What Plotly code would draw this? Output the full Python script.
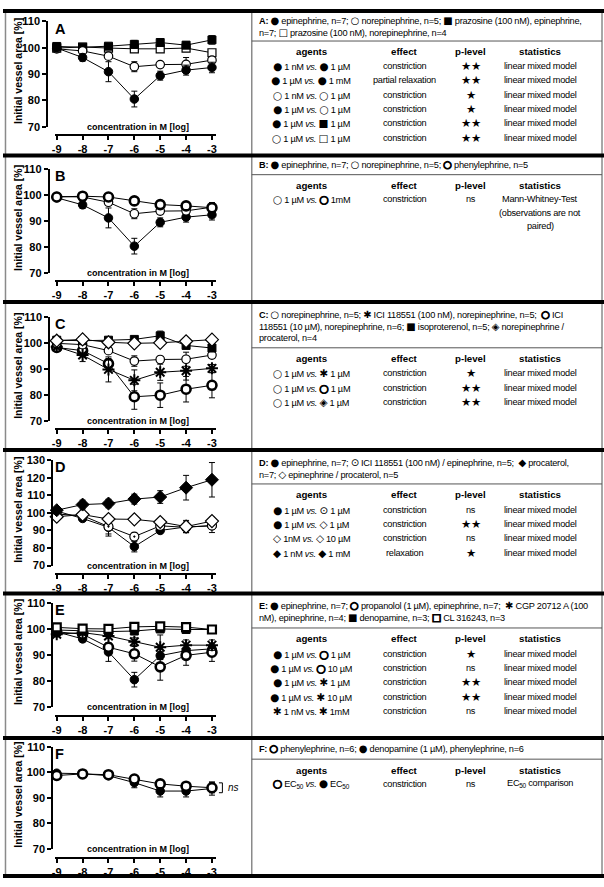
import plotly.graph_objects as go

W, H = 604, 887

# ---------------- data ----------------
conc_log = [-9, -8, -7, -6, -5, -4, -3]
conc_ticklabels = ["-9", "-8", "-7", "-6", "-5", "-4", "-3"]

# Panel A
A_epinephrine = [99.9, 96.3, 90.9, 80.5, 89.4, 91.5, 92.5]
A_epinephrine_err = [0.8, 1.4, 3.8, 3.0, 1.7, 1.9, 2.0]
A_norepinephrine = [99.6, 98.8, 96.8, 92.8, 93.6, 93.7, 95.3]
A_norepinephrine_err = [0.6, 0.8, 1.0, 1.9, 1.0, 2.6, 1.0]
A_praz_epi = [100.5, 100.2, 100.6, 101.3, 102.0, 101.0, 103.0]
A_praz_epi_err = [0.8, 0.8, 1.0, 1.5, 1.0, 1.2, 1.6]
A_praz_norepi = [99.9, 100.3, 99.9, 99.6, 99.6, 99.9, 98.1]
A_praz_norepi_err = [0.5, 0.5, 0.6, 0.6, 0.6, 0.6, 0.6]

# Panel B
B_epinephrine = [98.9, 96.2, 91.2, 80.4, 89.5, 91.5, 92.4]
B_epinephrine_err = [0.8, 1.4, 3.8, 3.0, 1.7, 1.9, 2.0]
B_norepinephrine = [99.4, 99.2, 97.2, 92.8, 93.8, 93.9, 95.3]
B_norepinephrine_err = [0.6, 0.8, 1.0, 1.9, 1.0, 2.6, 1.0]
B_phenylephrine = [99.2, 99.5, 99.2, 97.7, 96.3, 95.8, 95.1]
B_phenylephrine_err = [0.5, 0.5, 0.6, 0.6, 1.0, 1.2, 2.0]

# Panel C
C_norepinephrine = [99.8, 99.3, 97.0, 93.0, 93.6, 93.7, 95.3]
C_norepinephrine_err = [0.6, 0.8, 1.0, 2.0, 1.2, 2.7, 1.0]
C_ici100 = [98.5, 95.3, 89.8, 85.6, 88.7, 89.3, 90.2]
C_ici100_err = [0.8, 2.5, 4.8, 4.0, 3.1, 3.6, 1.5]
C_ici10 = [98.2, 97.0, 92.0, 79.3, 79.9, 82.2, 83.7]
C_ici10_err = [0.8, 2.0, 2.0, 4.8, 4.7, 4.9, 4.8]
C_isoproterenol = [101.0, 100.8, 101.0, 101.3, 102.7, 99.0, 98.0]
C_isoproterenol_err = [0.6, 0.6, 0.8, 1.0, 1.8, 1.0, 1.0]
C_norepi_procaterol = [100.8, 101.3, 100.2, 99.8, 100.0, 100.6, 101.2]
C_norepi_procaterol_err = [0.5, 0.5, 0.6, 0.8, 0.8, 0.8, 0.8]

# Panel D
D_epinephrine = [101.0, 96.8, 91.8, 80.8, 90.0, 92.0, 92.6]
D_epinephrine_err = [0.8, 1.4, 3.8, 3.0, 1.7, 1.9, 2.0]
D_ici_epi = [99.3, 98.4, 92.2, 86.5, 92.6, 91.8, 92.8]
D_ici_epi_err = [0.8, 1.0, 5.4, 2.0, 1.5, 3.0, 4.0]
D_procaterol = [101.5, 104.7, 105.3, 107.8, 109.0, 114.3, 118.8]
D_procaterol_err = [1.0, 2.5, 2.4, 2.8, 3.6, 7.0, 9.8]
D_epi_procaterol = [97.8, 99.0, 96.5, 96.3, 94.8, 92.2, 95.3]
D_epi_procaterol_err = [0.6, 0.8, 0.8, 1.0, 1.0, 3.5, 2.2]

# Panel E
E_epinephrine = [98.9, 96.2, 91.2, 80.6, 89.8, 91.7, 92.4]
E_epinephrine_err = [0.8, 1.2, 3.6, 2.8, 1.5, 2.0, 1.5]
E_propanolol = [98.9, 98.0, 93.0, 90.5, 85.5, 89.9, 91.1]
E_propanolol_err = [0.6, 0.8, 1.5, 2.8, 5.1, 3.8, 3.5]
E_cgp = [98.0, 98.6, 97.3, 95.1, 93.0, 93.8, 93.8]
E_cgp_err = [0.6, 0.8, 1.0, 1.5, 4.7, 2.0, 2.0]
E_denopamine = [99.6, 99.2, 99.0, 99.2, 100.0, 99.8, 99.8]
E_denopamine_err = [0.4, 0.4, 0.5, 0.5, 0.5, 0.5, 0.5]
E_cl316243 = [100.6, 100.1, 100.0, 100.8, 101.0, 100.7, 99.8]
E_cl316243_err = [0.4, 0.4, 0.5, 0.5, 0.5, 0.5, 0.5]

# Panel F
F_phenylephrine = [98.7, 99.3, 99.0, 97.3, 95.4, 94.5, 93.9]
F_phenylephrine_err = [0.5, 0.5, 0.6, 0.8, 1.0, 1.0, 2.0]
F_denopamine_phenyl = [99.6, 99.4, 98.6, 95.9, 92.6, 92.6, 93.6]
F_denopamine_phenyl_err = [0.5, 0.5, 0.8, 2.0, 2.3, 2.3, 2.6]

# table text ("<b>○</b>" / "<b>□</b>" = thick-outlined symbol)
A_header = ["<b>A:</b> ● epinephrine, n=7; ○ norepinephrine, n=5; ■ prazosine (100 nM), epinephrine,",
            "n=7; □ prazosine (100 nM), norepinephrine, n=4"]
A_rows = [
    ["● 1 nM <i>vs.</i> ● 1 µM", "constriction", "★★", "linear mixed model"],
    ["● 1 µM <i>vs.</i> ● 1 mM", "partial relaxation", "★★", "linear mixed model"],
    ["○ 1 nM <i>vs.</i> ○ 1 µM", "constriction", "★", "linear mixed model"],
    ["● 1 µM <i>vs.</i> ○ 1 µM", "constriction", "★", "linear mixed model"],
    ["● 1 µM <i>vs.</i> ■ 1 µM", "constriction", "★★", "linear mixed model"],
    ["○ 1 µM <i>vs.</i> □ 1 µM", "constriction", "★★", "linear mixed model"],
]
B_header = ["<b>B:</b> ● epinephrine, n=7; ○ norepinephrine, n=5; <b>○</b> phenylephrine, n=5"]
B_rows = [
    ["○ 1 µM <i>vs.</i> <b>○</b> 1mM", "constriction", "ns",
     "Mann-Whitney-Test<br>(observations are not<br>paired)"],
]
C_header = ["<b>C:</b> ○ norepinephrine, n=5; ✱ ICI 118551 (100 nM), norepinephrine, n=5;  <b>○</b> ICI",
            "118551 (10 µM), norepinephrine, n=6; ■ isoproterenol, n=5; ◈ norepinephrine /",
            "procaterol, n=4"]
C_rows = [
    ["○ 1 µM <i>vs.</i> ✱ 1 µM", "constriction", "★", "linear mixed model"],
    ["○ 1 µM <i>vs.</i> <b>○</b> 1 µM", "constriction", "★★", "linear mixed model"],
    ["○ 1 µM <i>vs.</i> ◈ 1 µM", "constriction", "★★", "linear mixed model"],
]
D_header = ["<b>D:</b> ● epinephrine, n=7; ⊙ ICI 118551 (100 nM) / epinephrine, n=5;  ◆ procaterol,",
            "n=7; ◇ epinephrine / procaterol, n=5"]
D_rows = [
    ["● 1 µM <i>vs.</i> ⊙ 1 µM", "constriction", "ns", "linear mixed model"],
    ["● 1 µM <i>vs.</i> ◇ 1 µM", "constriction", "★★", "linear mixed model"],
    ["◇ 1nM <i>vs.</i> ◇ 10 µM", "constriction", "ns", "linear mixed model"],
    ["◆ 1 nM <i>vs.</i> ◆ 1 mM", "relaxation", "★", "linear mixed model"],
]
E_header = ["<b>E:</b> ● epinephrine, n=7; <b>○</b> propanolol (1 µM), epinephrine, n=7;  ✱ CGP 20712 A (100",
            "nM), epinephrine, n=4; ■ denopamine, n=3; <b>□</b> CL 316243, n=3"]
E_rows = [
    ["● 1 µM <i>vs.</i> <b>○</b> 1 µM", "constriction", "★", "linear mixed model"],
    ["● 1 µM <i>vs.</i> <b>○</b> 10 µM", "constriction", "ns", "linear mixed model"],
    ["● 1 µM <i>vs.</i> ✱ 1 µM", "constriction", "★★", "linear mixed model"],
    ["● 1 µM <i>vs.</i> ✱ 10 µM", "constriction", "★★", "linear mixed model"],
    ["✱ 1 nM vs. ✱ 1mM", "constriction", "ns", "linear mixed model"],
]
F_header = ["<b>F:</b> <b>○</b> phenylephrine, n=6; ● denopamine (1 µM), phenylephrine, n=6"]
F_rows = [
    ["<b>○</b> EC<sub>50</sub> <i>vs.</i> ● EC<sub>50</sub>", "constriction", "ns", "EC<sub>50</sub> comparison"],
]
col_headers = ["agents", "effect", "p-level", "statistics"]

# ---------------- styles ----------------
STY = {
    "fcirc": dict(symbol="circle", size=8.5, color="black", line=dict(color="black", width=1)),
    "ocirc": dict(symbol="circle", size=8.5, color="white", line=dict(color="black", width=1.2)),
    "tcirc": dict(symbol="circle", size=9, color="white", line=dict(color="black", width=2.6)),
    "fsq": dict(symbol="square", size=8, color="black", line=dict(color="black", width=1)),
    "osq": dict(symbol="square", size=8, color="white", line=dict(color="black", width=1.2)),
    "tsq": dict(symbol="square", size=8, color="white", line=dict(color="black", width=2.2)),
    "fdia": dict(symbol="diamond", size=10, color="black", line=dict(color="black", width=1)),
    "odia": dict(symbol="diamond", size=10, color="white", line=dict(color="black", width=1.2)),
    "ast": dict(symbol="asterisk-open", size=10, color="black", line=dict(color="black", width=2)),
    "cdot": dict(symbol="circle-dot", size=9, color="white", line=dict(color="black", width=1.2)),
}

SERIES = {
    "A": [(A_praz_norepi, A_praz_norepi_err, "osq"), (A_praz_epi, A_praz_epi_err, "fsq"),
          (A_norepinephrine, A_norepinephrine_err, "ocirc"), (A_epinephrine, A_epinephrine_err, "fcirc")],
    "B": [(B_epinephrine, B_epinephrine_err, "fcirc"), (B_norepinephrine, B_norepinephrine_err, "ocirc"),
          (B_phenylephrine, B_phenylephrine_err, "tcirc")],
    "C": [(C_ici10, C_ici10_err, "tcirc"), (C_ici100, C_ici100_err, "ast"),
          (C_norepinephrine, C_norepinephrine_err, "ocirc"), (C_isoproterenol, C_isoproterenol_err, "fsq"),
          (C_norepi_procaterol, C_norepi_procaterol_err, "odia")],
    "D": [(D_epinephrine, D_epinephrine_err, "fcirc"), (D_ici_epi, D_ici_epi_err, "cdot"),
          (D_epi_procaterol, D_epi_procaterol_err, "odia"), (D_procaterol, D_procaterol_err, "fdia")],
    "E": [(E_epinephrine, E_epinephrine_err, "fcirc"), (E_propanolol, E_propanolol_err, "tcirc"),
          (E_cgp, E_cgp_err, "ast"), (E_denopamine, E_denopamine_err, "fsq"),
          (E_cl316243, E_cl316243_err, "tsq")],
    "F": [(F_denopamine_phenyl, F_denopamine_phenyl_err, "fcirc"),
          (F_phenylephrine, F_phenylephrine_err, "tcirc")],
}

# panel geometry (pixels): key, ymax, y of ymax, y of 70, x-axis line y, y-axis line x
PANELS = [
    ("A", 110, 15.7, 122.3, 130.7, 44.5),
    ("B", 110, 165.0, 271.0, 279.0, 46.0),
    ("C", 110, 315.0, 420.7, 429.0, 46.5),
    ("D", 130, 460.3, 567.3, 576.0, 49.5),
    ("E", 110, 605.0, 711.0, 720.0, 49.5),
    ("F", 110, 750.8, 854.3, 863.3, 49.5),
]
XDOM = (52.0, 214.5)
P9, P3 = 54.0, 210.0
PPU = (P3 - P9) / 6.0
XR = [-9 - (P9 - XDOM[0]) / PPU, -3 + (XDOM[1] - P3) / PPU]

FONT = "Liberation Sans, Arial, sans-serif"
TFONT = "Liberation Sans, Arial, sans-serif"
TSIZE = 9.2
SYMS = "●○■□◆◇⊙✱◈★"
SYMSTYLE = "font-family:DejaVu Sans;font-size:{s}px"
THICK = "font-family:DejaVu Sans;font-size:{s}px;stroke:black;stroke-width:1.1px"
NARROW = "letter-spacing:-0.25px"


def symfont(txt, size=10.5):
    thick_open = '<span style="' + THICK.format(s=size) + '">'
    for ch in "○□":
        txt = txt.replace(f"<b>{ch}</b>", thick_open + ch + "</span>")
    parts = txt.split(thick_open)
    res = ""
    for pi, part in enumerate(parts):
        if pi > 0:
            res += thick_open + part[0]
            part = part[1:]
        for ch in part:
            if ch in SYMS:
                s = 11.5 if ch == "★" else size
                res += f'<span style="{SYMSTYLE.format(s=s)}">{ch}</span>'
            else:
                res += ch
    return f'<span style="{NARROW}">{res}</span>'


def px(x):
    return x / W


def py(y):
    return 1 - y / H


fig = go.Figure()
layout = dict(width=W, height=H, margin=dict(l=0, r=0, t=0, b=0, pad=0),
              paper_bgcolor="white", plot_bgcolor="rgba(0,0,0,0)", showlegend=False)
annotations = []
shapes = []

for i, (key, ymax, ytop, y70, xline, yline) in enumerate(PANELS, start=1):
    xa = "xaxis" if i == 1 else f"xaxis{i}"
    ya = "yaxis" if i == 1 else f"yaxis{i}"
    xr = "x" if i == 1 else f"x{i}"
    yr = "y" if i == 1 else f"y{i}"
    layout[xa] = dict(domain=[px(XDOM[0]), px(XDOM[1])], range=XR, anchor="free", position=py(xline),
                      showline=True, linecolor="black", linewidth=2, ticks="outside", ticklen=4,
                      tickwidth=2, tickcolor="black", tickvals=conc_log, ticktext=conc_ticklabels,
                      tickfont=dict(family=FONT, size=11, color="black", weight="bold"),
                      showgrid=False, zeroline=False, fixedrange=True)
    layout[ya] = dict(domain=[py(y70), py(ytop)], range=[70, ymax], anchor="free", position=px(yline),
                      showline=True, linecolor="black", linewidth=2, ticks="outside", ticklen=4,
                      tickwidth=2, tickcolor="black", tickvals=list(range(70, ymax + 1, 10)),
                      tickfont=dict(family=FONT, size=11, color="black", weight="bold"),
                      showgrid=False, zeroline=False, fixedrange=True)
    for yvals, errs, sk in SERIES[key]:
        fig.add_trace(go.Scatter(
            x=conc_log, y=yvals, mode="lines+markers", xaxis=xr, yaxis=yr,
            line=dict(color="black", width=1), marker=STY[sk], cliponaxis=False,
            error_y=dict(type="data", array=errs, visible=True, color="black", thickness=1, width=3),
            hoverinfo="skip"))
    annotations.append(dict(x=px(50.5), y=py(ytop + 7.5), xref="paper", yref="paper", text=f"<b>{key}</b>",
                            showarrow=False, xanchor="left", yanchor="middle",
                            font=dict(family=FONT, size=14.5, color="black")))
    annotations.append(dict(x=px(15), y=py((ytop + y70) / 2 - 3), xref="paper", yref="paper",
                            text="<b>Initial vessel area [%]</b>", textangle=-90, showarrow=False,
                            xanchor="center", yanchor="middle",
                            font=dict(family=FONT, size=10.5, color="black")))
    annotations.append(dict(x=-5.85, y=70, xref=xr, yref=yr, text="<b>concentration in M [log]</b>",
                            showarrow=False, xanchor="center", yanchor="middle",
                            font=dict(family=FONT, size=9, color="black")))

# ns bracket in F
shapes.append(dict(type="path", xref="paper", yref="paper",
                   path=f"M {px(217)} {py(787.5)} L {px(220.5)} {py(787.5)} L {px(220.5)} {py(797.5)} L {px(217)} {py(797.5)}",
                   line=dict(color="black", width=1)))
annotations.append(dict(x=px(224.5), y=py(792.5), xref="paper", yref="paper", text="<i>ns</i>",
                        showarrow=False, xanchor="left", yanchor="middle",
                        font=dict(family=FONT, size=10, color="black")))

# ---------------- table frame ----------------
SEP_X = 250
THICK_Y = [5, 151.5, 300, 450, 595.5, 742, 882]
for yy in THICK_Y:
    shapes.append(dict(type="line", xref="paper", yref="paper", x0=0, x1=1, y0=py(yy), y1=py(yy),
                       line=dict(color="black", width=4)))
for xx in (2.5, SEP_X, 602):
    shapes.append(dict(type="line", xref="paper", yref="paper", x0=px(xx), x1=px(xx), y0=py(7), y1=py(880),
                       line=dict(color="#8a8a8a", width=1.5), layer="below"))

CELLS = [
    (A_header, A_rows, 14.5, 35.5, 46.5, 61),
    (B_header, B_rows, 161, 171, 182, 196),
    (C_header, C_rows, 312.5, 346.5, 357.5, 372.5),
    (D_header, D_rows, 462.5, 484.5, 495.5, 510.5),
    (E_header, E_rows, 607.5, 630.5, 641.5, 656.5),
    (F_header, F_rows, 753, 763.5, 774.5, 788.5),
]
COL_X = [310, 404, 470, 540]
HDR_DY = 12
ROW_DY = 14.5
SUB_DY = 13.5

for header, rows, hy, sepy, chy, ry in CELLS:
    for k, line in enumerate(header):
        annotations.append(dict(x=px(SEP_X + 5), y=py(hy + k * HDR_DY), xref="paper", yref="paper",
                                text=symfont(line, 10), showarrow=False, xanchor="left", yanchor="middle",
                                font=dict(family=TFONT, size=TSIZE, color="black")))
    shapes.append(dict(type="line", xref="paper", yref="paper", x0=px(SEP_X), x1=px(602),
                       y0=py(sepy), y1=py(sepy), line=dict(color="#555555", width=1)))
    for cx, txt in zip(COL_X, col_headers):
        annotations.append(dict(x=px(cx), y=py(chy), xref="paper", yref="paper", text=f"<b>{txt}</b>",
                                showarrow=False, xanchor="center", yanchor="middle",
                                font=dict(family=TFONT, size=9.7, color="black")))
    for r, row in enumerate(rows):
        for cx, txt in zip(COL_X, row):
            for s, part in enumerate(txt.split("<br>")):
                annotations.append(dict(x=px(cx), y=py(ry + r * ROW_DY + s * SUB_DY),
                                        xref="paper", yref="paper", text=symfont(part, 10.5), showarrow=False,
                                        xanchor="center", yanchor="middle",
                                        font=dict(family=TFONT, size=TSIZE, color="black")))

layout["annotations"] = annotations
layout["shapes"] = shapes
fig.update_layout(**layout)
fig.write_html("out.html", config={"displayModeBar": False},
               post_script="document.body.style.margin='0px';document.body.style.padding='0px';")
